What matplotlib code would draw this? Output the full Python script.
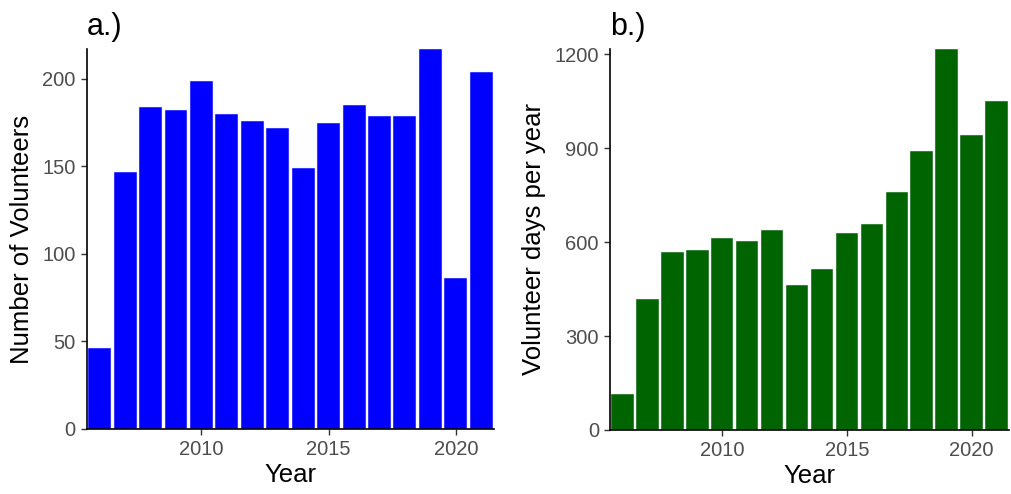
import numpy as np
from matplotlib import pyplot as plt

plt.rcParams['font.family'] = ['Liberation Sans', 'DejaVu Sans']

years = np.arange(2006, 2022)
volunteers = [46, 147, 184, 182, 199, 180, 176, 172, 149, 175, 185, 179, 179, 217, 86, 204]
volunteer_days = [115, 417, 570, 574, 614, 605, 639, 463, 515, 628, 657, 761, 891, 1217, 942, 1050]

fig = plt.figure(figsize=(10.11, 4.94), dpi=100)
ax_a = fig.add_axes([0.086, 0.1316, 0.4026, 0.7692])
ax_b = fig.add_axes([0.6034, 0.1296, 0.3946, 0.7712])


def style(ax, vals, color, yticks, ylabel, title):
    ax.bar(years, vals, width=0.9, color=color, edgecolor='#E8E8FF', linewidth=0.35)
    ax.set_xlim(2005.5, 2021.5)
    ax.set_ylim(0, max(vals))
    ax.set_xticks([2010, 2015, 2020])
    ax.set_yticks(yticks)
    for s in ['top', 'right']:
        ax.spines[s].set_visible(False)
    for s in ['left', 'bottom']:
        ax.spines[s].set_linewidth(1.2)
        ax.spines[s].set_color('black')
    ax.tick_params(axis='both', length=4, width=1.0, color='#333333',
                   labelsize=14.5, labelcolor='#4D4D4D', pad=4)
    ax.set_xlabel('Year', fontsize=18.5, labelpad=3)
    ax.set_ylabel(ylabel, fontsize=18.5, labelpad=6)
    ax.set_title(title, loc='left', fontsize=22, pad=10)


style(ax_a, volunteers, '#0000FF', [0, 50, 100, 150, 200],
      'Number of Volunteers', 'a.)')
style(ax_b, volunteer_days, '#006400', [0, 300, 600, 900, 1200],
      'Volunteer days per year', 'b.)')

fig.savefig('out.png', dpi=100)
